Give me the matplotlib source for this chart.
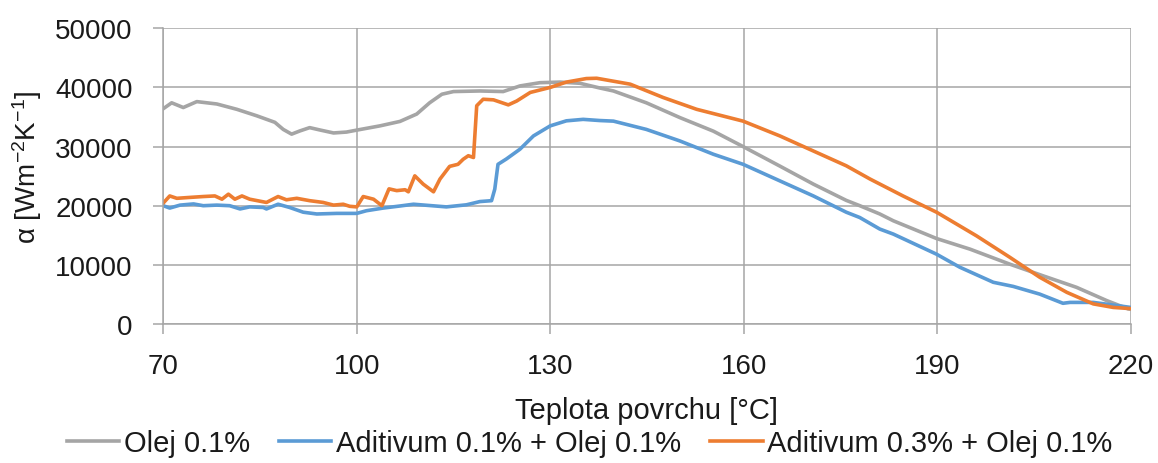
import matplotlib
matplotlib.use('Agg')
import matplotlib.pyplot as plt

plt.rcParams['font.family'] = ['Liberation Sans', 'DejaVu Sans']
plt.rcParams['mathtext.default'] = 'regular'

# Olej 0.1%
t_olej = [70, 71.3, 73.1, 75.2, 78.3, 81.4, 84.5, 87.3, 88.6, 89.9, 91.2, 92.7, 94.3, 96.4,
          98.4, 100.1, 103.6, 106.7, 109.3, 111.3, 113.2, 115.0, 119.1, 122.7, 125.3, 128.4,
          131.5, 134.6, 137.7, 139.8, 144.9, 150.1, 155.3, 159.9, 165.6, 170.8, 175.9, 178.0,
          181.1, 183.2, 189.9, 195.1, 201.3, 206.4, 211.6, 216.3, 219.6, 220]
a_olej = [36400, 37400, 36600, 37600, 37200, 36300, 35200, 34100, 32900, 32100, 32650, 33200,
          32800, 32300, 32450, 32800, 33500, 34250, 35500, 37400, 38850, 39300, 39400, 39300,
          40250, 40800, 40900, 40700, 39900, 39400, 37400, 34900, 32600, 30000, 26700, 23650,
          20900, 20000, 18600, 17450, 14450, 12650, 10100, 8150, 6200, 3950, 2550, 2500]

# Aditivum 0.1% + Olej 0.1%
t_ad1 = [70, 71, 72.6, 74.7, 76.2, 78.3, 80.3, 81.9, 83.4, 85.5, 86.0, 87.8, 89.6, 91.7, 93.8,
         96.9, 100.0, 101.5, 104.1, 106.7, 108.8, 113.9, 117.0, 119.1, 120.9, 121.4, 121.9,
         123.2, 125.3, 127.4, 130.0, 132.5, 135.1, 137.7, 139.8, 144.9, 150.1, 155.3, 159.9,
         165.6, 170.8, 175.9, 178.0, 181.1, 183.2, 189.9, 193.5, 198.7, 201.8, 205.9, 209.5,
         210.6, 214.2, 217.3, 220]
a_ad1 = [20000, 19600, 20100, 20300, 20000, 20100, 20000, 19450, 19800, 19700, 19450, 20250,
         19700, 18900, 18600, 18700, 18700, 19150, 19600, 19950, 20250, 19800, 20150, 20700,
         20850, 22800, 27000, 27900, 29550, 31800, 33500, 34350, 34600, 34400, 34300, 32900,
         30950, 28700, 27000, 24200, 21650, 18900, 18000, 16050, 15200, 11800, 9600, 7050,
         6350, 5050, 3500, 3650, 3650, 3200, 2800]

# Aditivum 0.3% + Olej 0.1%
t_ad3 = [70, 71.0, 72.1, 74.1, 76.2, 78.0, 79.1, 80.1, 81.1, 82.2, 83.4, 86.0, 87.8, 89.1, 90.7,
         92.7, 94.8, 96.4, 97.9, 98.9, 100.0, 101.0, 102.6, 103.9, 105.0, 106.2, 107.5, 108.0,
         109.0, 110.3, 111.9, 112.9, 114.4, 115.7, 116.5, 117.3, 118.1, 118.6, 119.6, 121.2,
         123.5, 124.8, 126.9, 130.0, 132.5, 135.6, 137.2, 142.4, 147.5, 152.7, 159.9, 165.6,
         170.8, 175.9, 179.6, 184.7, 189.9, 196.1, 201.3, 205.9, 210.1, 214.2, 217.3, 220]
a_ad3 = [20450, 21650, 21250, 21400, 21550, 21650, 21100, 21950, 21100, 21650, 21100, 20550,
         21550, 21000, 21250, 20850, 20550, 20100, 20250, 19900, 19800, 21550, 21100, 20000,
         22850, 22550, 22700, 22350, 25050, 23650, 22350, 24500, 26650, 27000, 27850, 28450,
         28150, 36900, 38000, 37900, 37050, 37700, 39150, 40000, 40900, 41500, 41550, 40550,
         38300, 36300, 34300, 31800, 29250, 26750, 24500, 21650, 18900, 14900, 11250, 7900,
         5350, 3400, 2800, 2600]

grid_c = '#a6a6a6'
fig = plt.figure(figsize=(11.58, 4.64), dpi=100)
ax = fig.add_axes([0.141, 0.2996, 0.8354, 0.6373])

ax.plot(t_olej, a_olej, color='#a5a5a5', lw=2.6, label='Olej 0.1%')
ax.plot(t_ad1, a_ad1, color='#5b9bd5', lw=2.6, label='Aditivum 0.1% + Olej 0.1%')
ax.plot(t_ad3, a_ad3, color='#ed7d31', lw=2.6, label='Aditivum 0.3% + Olej 0.1%')

ax.set_xlim(70, 220)
ax.set_ylim(0, 50000)
ax.set_xticks(range(70, 221, 30))
ax.set_yticks(range(0, 50001, 10000))
ax.grid(True, color=grid_c, lw=1.1)
ax.set_axisbelow(True)
for s in ['top', 'right']:
    ax.spines[s].set_visible(False)
for s in ['left', 'bottom']:
    ax.spines[s].set_color(grid_c)
    ax.spines[s].set_linewidth(1.1)
ax.tick_params(axis='both', colors=grid_c, labelcolor='#1a1a1a', labelsize=20,
               length=7, width=1.1)
ax.tick_params(axis='y', pad=15)
ax.tick_params(axis='x', pad=14)

ax.set_xlabel('Teplota povrchu [°C]', fontsize=21, color='#1a1a1a')
ax.xaxis.set_label_coords(0.5, -0.245)
ax.set_ylabel('α [Wm$^{-2}$K$^{-1}$]', fontsize=20, color='#1a1a1a')
ax.yaxis.set_label_coords(-0.123, 0.534)

fig.legend(loc='center', bbox_to_anchor=(0.509, 0.043), ncol=3, frameon=False,
           fontsize=21, handlelength=1.8, handletextpad=0.15, columnspacing=1.0,
           labelcolor='#1a1a1a')

fig.savefig('out.png', dpi=100)
